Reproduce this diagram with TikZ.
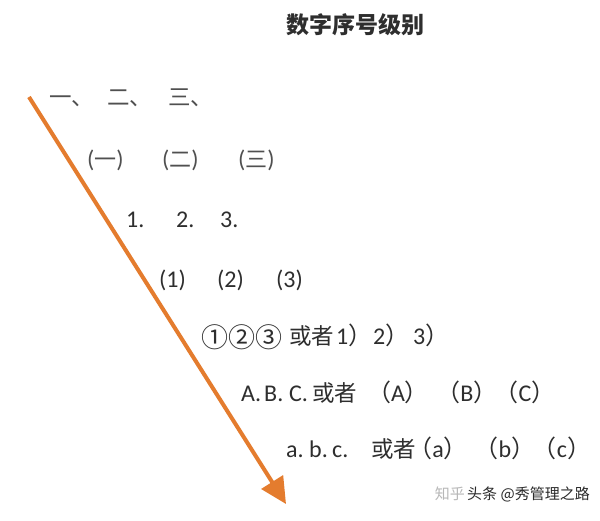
\documentclass[tikz,border=0pt]{standalone}
\usepackage{fontspec}
\setmainfont{Carlito}
\newfontfamily\cjk{Noto Sans CJK SC}
\usetikzlibrary{arrows.meta}
\definecolor{txtgray}{HTML}{2E2E2E}
\definecolor{lightgray}{HTML}{505050}
\definecolor{arroworange}{RGB}{228,124,46}
\definecolor{wmlight}{HTML}{B8B8B8}
\definecolor{wmdark}{HTML}{2A2A2A}
\newcommand{\fwr}{\makebox[0.45em][l]{\cjk ）}}
\begin{document}
\begin{tikzpicture}[x=1pt,y=-1pt,
  item/.style={inner sep=0pt, anchor=base west, text=txtgray, font=\fontsize{24}{28}\selectfont},
  cj/.style={item, font=\cjk\fontsize{22.5}{26}\selectfont},
  cjlight/.style={cj, text=lightgray},
  circ/.style={item, font=\cjk\fontsize{27}{30}\selectfont},
  title/.style={inner sep=0pt, text=txtgray, font=\cjk\bfseries\fontsize{23}{27}\selectfont},
  wm/.style={inner sep=0pt, anchor=base west, font=\cjk\fontsize{15}{18}\selectfont},
  arrowline/.style={draw=arroworange, line width=4pt, -{Triangle[length=26pt,width=25pt]}}
]
\useasboundingbox[fill=white] (0,0) rectangle (600,521);

\node[title] (title) at (355,25) {数字序号级别};

% row 1
\node[cjlight] (r1a) at (49,106) {一、};
\node[cjlight] (r1b) at (107,106) {二、};
\node[cjlight] (r1c) at (168,106) {三、};

% row 2
\node[item, text=lightgray] (r2a) at (87,168) {({\cjk\fontsize{22}{26}\selectfont 一})};
\node[item, text=lightgray] (r2b) at (162,168) {({\cjk\fontsize{22}{26}\selectfont 二})};
\node[item, text=lightgray] (r2c) at (238,168) {({\cjk\fontsize{22}{26}\selectfont 三})};

% row 3
\node[item] (r3a) at (126,228) {1.};
\node[item] (r3b) at (176,228) {2.};
\node[item] (r3c) at (220,228) {3.};

% row 4
\node[item] (r4a) at (159,288) {(1)};
\node[item] (r4b) at (217,288) {(2)};
\node[item] (r4c) at (276,288) {(3)};

% row 5
\node[circ] (r5a) at (201,348) {①②③};
\node[cj] (r5b) at (289,345) {或者};
\node[item] (r5c) at (336,345) {1\fwr};
\node[item] (r5d) at (373,345) {2\fwr};
\node[item] (r5e) at (413,345) {3\fwr};

% row 6
\node[item] (r6a) at (241,401) {A.};
\node[item] (r6b) at (264,401) {B.};
\node[item] (r6c) at (289,401) {C.};
\node[cj] (r6d) at (312,401) {或者};
\node[item, anchor=base] (r6e) at (398,401) {{\cjk （}A{\cjk ）}};
\node[item, anchor=base] (r6f) at (467,401) {{\cjk （}B{\cjk ）}};
\node[item, anchor=base] (r6g) at (525,401) {{\cjk （}C{\cjk ）}};

% row 7
\node[item] (r7a) at (286,457) {a.};
\node[item] (r7b) at (309,457) {b.};
\node[item] (r7c) at (332,457) {c.};
\node[cj] (r7d) at (371,457) {或者};
\node[item, anchor=base] (r7e) at (438,457) {{\cjk （}a{\cjk ）}};
\node[item, anchor=base] (r7f) at (505,457) {{\cjk （}b{\cjk ）}};
\node[item, anchor=base] (r7g) at (562,457) {{\cjk （}c{\cjk ）}};

% watermark
\node[wm, text=wmlight, anchor=base east] (wm1) at (465,499) {知乎};
\node[wm, text=wmdark] (wm2) at (467,499) {头条 @秀管理之路};

% arrow
\coordinate (as) at (29,97);
\coordinate (ae) at (286,504);
\draw[arrowline] (as) -- (ae);
\end{tikzpicture}
\end{document}
